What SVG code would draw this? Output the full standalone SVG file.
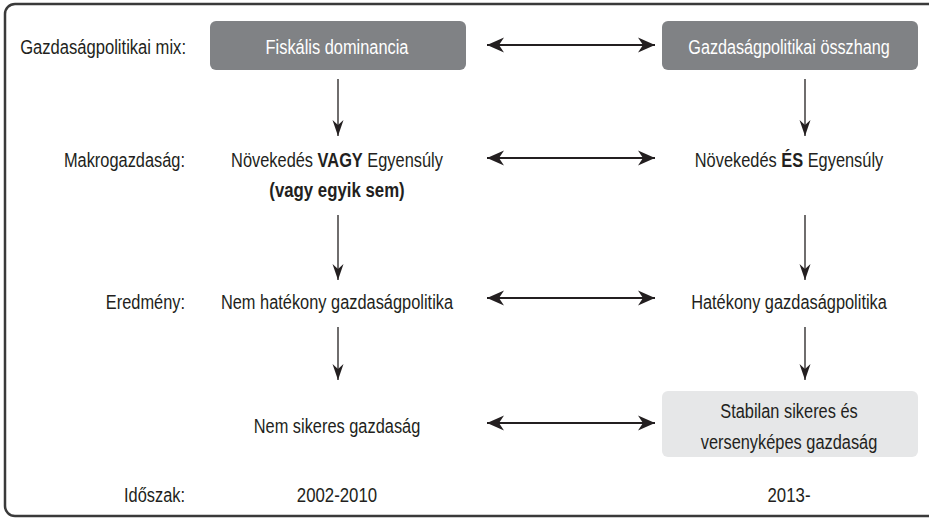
<svg xmlns="http://www.w3.org/2000/svg" width="929" height="521" viewBox="0 0 929 521">
<defs>
<style>
text{font-family:"Liberation Sans",Arial,sans-serif;font-size:21px;fill:#231f20}
.m{text-anchor:middle}
.e{text-anchor:end}
.w{fill:#ffffff}
.b{font-weight:bold}
.box{fill:#808285}
.lbox{fill:#e6e7e8}
.h{stroke:#231f20;stroke-width:2;fill:none}
.v{stroke:#231f20;stroke-width:1.3;fill:none}
</style>
<marker id="ah" markerUnits="userSpaceOnUse" markerWidth="20" markerHeight="20" viewBox="-18 -9 20 18" refX="0" refY="0" orient="auto-start-reverse">
<path d="M0,0 L-17,-7.5 L-12,0 L-17,7.5 Z" fill="#231f20"/>
</marker>
<marker id="av" markerUnits="userSpaceOnUse" markerWidth="20" markerHeight="20" viewBox="-18 -9 20 18" refX="0" refY="0" orient="auto">
<path d="M0,0 L-16,-5.5 L-11,0 L-16,5.5 Z" fill="#231f20"/>
</marker>
</defs>
<rect x="5" y="4" width="940" height="512" rx="10" fill="#ffffff" stroke="#3a3a3a" stroke-width="2.5"/>

<g id="labels">
<text class="e" transform="translate(186,54) scale(0.79,1)">Gazdaságpolitikai mix:</text>
<text class="e" transform="translate(185,167) scale(0.78,1)">Makrogazdaság:</text>
<text class="e" transform="translate(185,309) scale(0.78,1)">Eredmény:</text>
<text class="e" transform="translate(185,502) scale(0.78,1)">Időszak:</text>
</g>

<g id="fiskalis">
<rect class="box" x="210" y="21" width="256" height="49" rx="6"/>
<text class="w m" transform="translate(337,54) scale(0.78,1)">Fiskális dominancia</text>
</g>
<g id="osszhang">
<rect class="box" x="662" y="21" width="256" height="49" rx="6"/>
<text class="w m" transform="translate(789,54) scale(0.77,1)">Gazdaságpolitikai összhang</text>
</g>

<g id="vagy">
<text class="m" transform="translate(337,167) scale(0.78,1)">Növekedés <tspan class="b">VAGY</tspan> Egyensúly</text>
<text class="m b" transform="translate(337,197) scale(0.8,1)">(vagy egyik sem)</text>
</g>
<g id="es">
<text class="m" transform="translate(789,167) scale(0.78,1)">Növekedés <tspan class="b">ÉS</tspan> Egyensúly</text>
</g>

<g id="nemhatekony">
<text class="m" transform="translate(337,309) scale(0.78,1)">Nem hatékony gazdaságpolitika</text>
</g>
<g id="hatekony">
<text class="m" transform="translate(789,309) scale(0.78,1)">Hatékony gazdaságpolitika</text>
</g>

<g id="nemsikeres">
<text class="m" transform="translate(337,433) scale(0.78,1)">Nem sikeres gazdaság</text>
</g>
<g id="stabilan">
<rect class="lbox" x="662" y="391" width="256" height="66" rx="6"/>
<text class="m" transform="translate(789,418) scale(0.78,1)">Stabilan sikeres és</text>
<text class="m" transform="translate(789,449) scale(0.78,1)">versenyképes gazdaság</text>
</g>

<g id="periods">
<text class="m" transform="translate(337,502) scale(0.8,1)">2002-2010</text>
<text class="m" transform="translate(789,502) scale(0.8,1)">2013-</text>
</g>

<g id="connectors">
<line class="h" x1="487" y1="45" x2="655" y2="45" marker-start="url(#ah)" marker-end="url(#ah)"/>
<line class="h" x1="487" y1="158" x2="655" y2="158" marker-start="url(#ah)" marker-end="url(#ah)"/>
<line class="h" x1="487" y1="298" x2="655" y2="298" marker-start="url(#ah)" marker-end="url(#ah)"/>
<line class="h" x1="487" y1="423" x2="655" y2="423" marker-start="url(#ah)" marker-end="url(#ah)"/>
<line class="v" x1="338" y1="79" x2="338" y2="136" marker-end="url(#av)"/>
<line class="v" x1="338" y1="215" x2="338" y2="280" marker-end="url(#av)"/>
<line class="v" x1="338" y1="327" x2="338" y2="380" marker-end="url(#av)"/>
<line class="v" x1="805" y1="79" x2="805" y2="136" marker-end="url(#av)"/>
<line class="v" x1="805" y1="215" x2="805" y2="280" marker-end="url(#av)"/>
<line class="v" x1="805" y1="327" x2="805" y2="380" marker-end="url(#av)"/>
</g>
</svg>
